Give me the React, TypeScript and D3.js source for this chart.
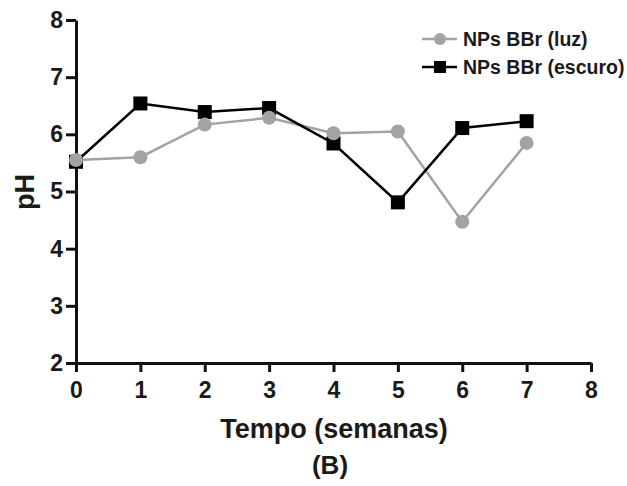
import * as React from 'react';
import { useRef, useEffect } from 'react';
import * as d3 from 'd3';

const weeks = [0, 1, 2, 3, 4, 5, 6, 7];
const luzValues = [5.55, 5.6, 6.17, 6.29, 6.02, 6.05, 4.47, 5.85];
const escuroValues = [5.52, 6.54, 6.39, 6.46, 5.84, 4.81, 6.11, 6.23];
const xTicks = [0, 1, 2, 3, 4, 5, 6, 7, 8];
const yTicks = [2, 3, 4, 5, 6, 7, 8];
const seriesNames = ['NPs BBr (luz)', 'NPs BBr (escuro)'];

const GREY = '#a3a3a3';
const FONT = '"Liberation Sans", Arial, sans-serif';

const App: React.FC = () => {
  const svgRef = useRef<SVGSVGElement>(null);

  useEffect(() => {
    if (!svgRef.current) return;
    const svg = d3.select(svgRef.current);
    svg.selectAll('*').remove();

    const x = d3.scaleLinear().domain([0, 8]).range([76, 591]);
    const y = d3.scaleLinear().domain([2, 8]).range([363, 20]);

    // axes
    const xAxis = svg.append('g')
      .attr('transform', `translate(0,${y(2)})`)
      .call(d3.axisBottom(x).tickValues(xTicks).tickFormat(d3.format('d')).tickSize(9).tickPadding(10).tickSizeOuter(0));
    const yAxis = svg.append('g')
      .attr('transform', `translate(${x(0)},0)`)
      .call(d3.axisLeft(y).tickValues(yTicks).tickFormat(d3.format('d')).tickSize(10).tickPadding(3).tickSizeOuter(0));

    [xAxis, yAxis].forEach(a => {
      a.select('.domain').attr('stroke', '#111').attr('stroke-width', 3);
      a.selectAll('.tick line').attr('stroke', '#111').attr('stroke-width', 3);
      a.selectAll('.tick text')
        .attr('font-family', FONT)
        .attr('font-weight', 'bold')
        .attr('font-size', 23)
        .attr('fill', '#1a1a1a');
    });

    const line = d3.line<number>()
      .x((_, i) => x(weeks[i]))
      .y(d => y(d));

    // luz series
    svg.append('path')
      .datum(luzValues)
      .attr('d', line)
      .attr('fill', 'none')
      .attr('stroke', GREY)
      .attr('stroke-width', 2.5);

    // escuro series
    svg.append('path')
      .datum(escuroValues)
      .attr('d', line)
      .attr('fill', 'none')
      .attr('stroke', '#000')
      .attr('stroke-width', 2.5);

    svg.selectAll('.sq')
      .data(escuroValues)
      .enter()
      .append('rect')
      .attr('class', 'sq')
      .attr('x', (_, i) => x(weeks[i]) - 7)
      .attr('y', d => y(d) - 7)
      .attr('width', 14)
      .attr('height', 14)
      .attr('fill', '#000');

    svg.selectAll('.dot')
      .data(luzValues)
      .enter()
      .append('circle')
      .attr('class', 'dot')
      .attr('cx', (_, i) => x(weeks[i]))
      .attr('cy', d => y(d))
      .attr('r', 7)
      .attr('fill', GREY);

    // legend
    const legend = svg.append('g');
    legend.append('line').attr('x1', 422).attr('x2', 457).attr('y1', 39).attr('y2', 39)
      .attr('stroke', GREY).attr('stroke-width', 2.5);
    legend.append('circle').attr('cx', 440).attr('cy', 39).attr('r', 6).attr('fill', GREY);
    legend.append('line').attr('x1', 422).attr('x2', 457).attr('y1', 67).attr('y2', 67)
      .attr('stroke', '#000').attr('stroke-width', 2.5);
    legend.append('rect').attr('x', 434).attr('y', 61).attr('width', 12).attr('height', 12).attr('fill', '#000');
    legend.selectAll('text')
      .data(seriesNames)
      .enter()
      .append('text')
      .attr('x', 463)
      .attr('y', (_, i) => 39 + i * 28)
      .attr('dy', '0.35em')
      .attr('font-family', FONT)
      .attr('font-weight', 'bold')
      .attr('font-size', 19.5)
      .attr('fill', '#1a1a1a')
      .text(d => d);

    // titles
    svg.append('text')
      .attr('x', 334)
      .attr('y', 438)
      .attr('text-anchor', 'middle')
      .attr('font-family', FONT)
      .attr('font-weight', 'bold')
      .attr('font-size', 27)
      .attr('fill', '#1a1a1a')
      .text('Tempo (semanas)');

    svg.append('text')
      .attr('transform', 'translate(34,192) rotate(-90)')
      .attr('text-anchor', 'middle')
      .attr('font-family', FONT)
      .attr('font-weight', 'bold')
      .attr('font-size', 27)
      .attr('fill', '#1a1a1a')
      .text('pH');

    svg.append('text')
      .attr('x', 330)
      .attr('y', 474)
      .attr('text-anchor', 'middle')
      .attr('font-family', FONT)
      .attr('font-weight', 'bold')
      .attr('font-size', 26)
      .attr('fill', '#1a1a1a')
      .text('(B)');
  }, []);

  return (
    <svg
      ref={svgRef}
      width={627}
      height={486}
      style={{ position: 'absolute', left: 0, top: 0, background: 'white' }}
    />
  );
};

export default App;
